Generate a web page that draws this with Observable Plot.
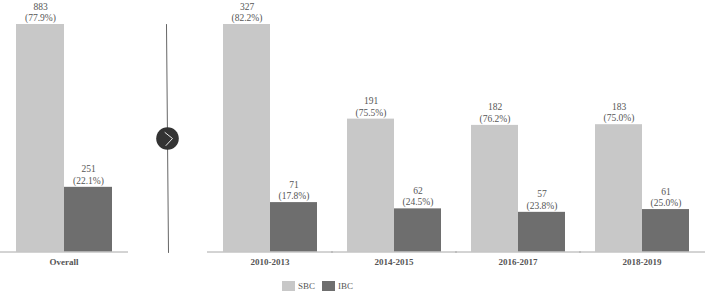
<!DOCTYPE html>
<html>
<head>
<meta charset="utf-8">
<script src="https://cdn.jsdelivr.net/npm/d3@7"></script>
<script src="https://cdn.jsdelivr.net/npm/@observablehq/plot@0.6"></script>
<style>
  html, body { margin: 0; padding: 0; background: #fff; }
  #root { position: relative; width: 706px; height: 293px; overflow: hidden; font-family: "Liberation Serif", serif; color: #555; }
  #root svg { position: absolute; background: transparent; overflow: visible; }
  #legend { position: absolute; left: 282px; top: 280px; height: 12px; display: flex; align-items: center; font-size: 9px; }
  #legend i { display: block; width: 13px; height: 9.5px; margin-right: 3px; }
  #legend span { margin-right: 7px; }
</style>
</head>
<body>
<div id="root"><div id="legend"></div></div>
<script>
const seriesNames = ["SBC", "IBC"];
const seriesColors = ["#c8c8c8", "#6e6e6e"];

const overallPeriods = ["Overall"];
const overallSBC = [883];
const overallIBC = [251];
const overallSBCPct = ["77.9%"];
const overallIBCPct = ["22.1%"];

const periods = ["2010-2013", "2014-2015", "2016-2017", "2018-2019"];
const periodSBC = [327, 191, 182, 183];
const periodIBC = [71, 62, 57, 61];
const periodSBCPct = ["82.2%", "75.5%", "76.2%", "75.0%"];
const periodIBCPct = ["17.8%", "24.5%", "23.8%", "25.0%"];

const separatorX = [-1, 1];
const separatorY = [114, -114];
const chevronX = [-2.5, 5, -1.5];
const chevronY = [6, 0, -7];

function rows(cats, a, b, pa, pb) {
  return cats.flatMap((c, i) => [
    {period: c, series: seriesNames[0], value: a[i], pct: pa[i]},
    {period: c, series: seriesNames[1], value: b[i], pct: pb[i]}
  ]);
}

function panel(cats, a, b, pa, pb, width, yMax, left) {
  const data = rows(cats, a, b, pa, pb);
  const svg = Plot.plot({
    width,
    height: 293,
    marginTop: 24,
    marginBottom: 41.5,
    marginLeft: 0,
    marginRight: 0,
    style: {fontFamily: '"Liberation Serif", serif', background: "transparent"},
    fx: {domain: cats, paddingInner: 0.232, paddingOuter: 0.116, label: null},
    x: {domain: seriesNames, padding: 0, axis: null},
    y: {domain: [0, yMax], axis: null},
    color: {domain: seriesNames, range: seriesColors},
    marks: [
      Plot.barY(data, {fx: "period", x: "series", y: "value", fill: "series"}),
      Plot.ruleY([0], {stroke: "#a8a8a8", strokeWidth: 1, insetLeft: -15, insetRight: -16}),
      Plot.text(data, {
        fx: "period", x: "series", y: "value",
        text: d => `${d.value}\n(${d.pct})`,
        lineAnchor: "bottom", lineHeight: 1.2, dy: -3.5,
        fontSize: 9.5, fill: "#555"
      }),
      Plot.axisFx({anchor: "bottom", tickSize: 0, tickPadding: 7, label: null, fontSize: 9, fontWeight: "bold", fill: "#555"})
    ]
  });
  svg.style.left = left + "px";
  svg.style.top = "0px";
  return svg;
}

const root = document.getElementById("root");
root.appendChild(panel(overallPeriods, overallSBC, overallIBC, overallSBCPct, overallIBCPct, 126, 883, 0));
root.appendChild(panel(periods, periodSBC, periodIBC, periodSBCPct, periodIBCPct, 496, 327, 207.5));

const sep = Plot.plot({
  width: 42, height: 228, margin: 0,
  style: {background: "transparent"},
  x: {domain: [-21, 21], axis: null},
  y: {domain: [-114, 114], axis: null},
  marks: [
    Plot.line(separatorX.map((x, i) => ({x, y: separatorY[i]})), {x: "x", y: "y", stroke: "#666", strokeWidth: 1}),
    Plot.dot([{x: 0, y: 0}], {x: "x", y: "y", r: 11.3, fill: "#333", stroke: "none"}),
    Plot.line(chevronX.map((x, i) => ({x, y: chevronY[i]})), {x: "x", y: "y", stroke: "#e8e8e8", strokeWidth: 1})
  ]
});
sep.style.left = "145.5px";
sep.style.top = "24px";
root.appendChild(sep);

const legend = document.getElementById("legend");
seriesNames.forEach((name, i) => {
  const sw = document.createElement("i");
  sw.style.background = seriesColors[i];
  const label = document.createElement("span");
  label.textContent = name;
  legend.append(sw, label);
});
</script>
</body>
</html>
